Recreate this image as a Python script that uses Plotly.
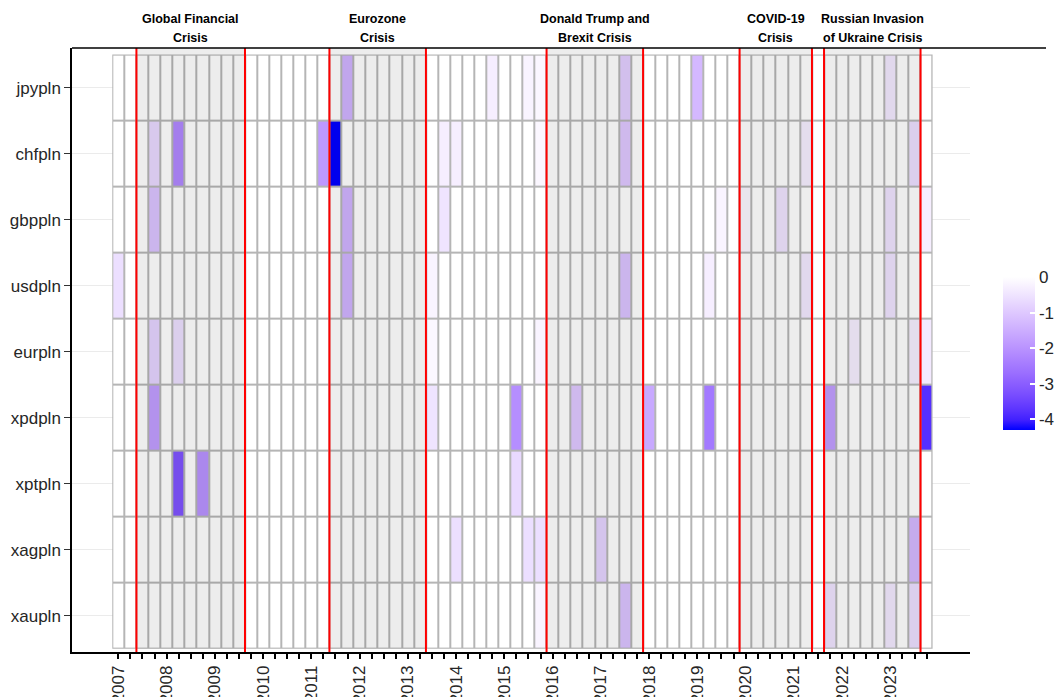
import plotly.graph_objects as go

# Quarterly grid 2007Q1 .. 2023Q4
years = list(range(2007, 2024))
quarters = [f"{y}Q{q}" for y in years for q in range(1, 5)]

# Series shown bottom-to-top on the y axis
series_names = ["xaupln", "xagpln", "xptpln", "xpdpln", "eurpln",
                "usdpln", "gbppln", "chfpln", "jpypln"]

# Non-zero quarterly values for each series (all other quarters are 0)
jpypln = {"2011Q4": -1.4, "2014Q4": -0.3, "2015Q3": -0.2, "2015Q4": -0.15,
          "2017Q3": -0.9, "2019Q1": -1.3, "2023Q1": -0.4}
chfpln = {"2007Q4": -0.7, "2008Q2": -2.2, "2011Q2": -1.9, "2011Q3": -4.3,
          "2013Q4": -0.3, "2014Q1": -0.3, "2015Q4": -0.15, "2017Q3": -1.0,
          "2021Q2": -0.3, "2023Q3": -0.6}
gbppln = {"2007Q4": -1.1, "2011Q4": -1.4, "2013Q4": -0.5, "2019Q3": -0.2,
          "2020Q1": -0.15, "2020Q4": -0.5, "2023Q1": -0.5, "2023Q4": -0.3}
usdpln = {"2007Q1": -0.6, "2011Q4": -1.4, "2013Q3": -0.2, "2017Q3": -1.1,
          "2019Q2": -0.3, "2021Q2": -0.4, "2023Q1": -0.5}
eurpln = {"2007Q4": -0.8, "2008Q2": -0.6, "2013Q3": -0.15, "2015Q4": -0.2,
          "2022Q2": -0.3, "2023Q3": -0.3, "2023Q4": -0.4}
xpdpln = {"2007Q4": -1.8, "2013Q3": -0.5, "2015Q2": -2.1, "2016Q3": -1.0,
          "2018Q1": -1.6, "2019Q2": -2.5, "2021Q4": -1.8, "2023Q4": -3.8}
xptpln = {"2008Q2": -3.2, "2008Q4": -2.0, "2015Q2": -0.7}
xagpln = {"2014Q1": -0.6, "2015Q3": -0.6, "2015Q4": -0.6, "2017Q1": -0.8,
          "2023Q3": -1.3}
xaupln = {"2015Q4": -0.2, "2017Q3": -1.1, "2021Q4": -0.5, "2023Q1": -0.4,
          "2023Q3": -0.6}

# Crisis periods (first and last quarter) and their two-line titles
crisis_line1 = ["Global Financial", "Eurozone", "Donald Trump and",
                "COVID-19", "Russian Invasion"]
crisis_line2 = ["Crisis", "Crisis", "Brexit Crisis", "Crisis",
                "of Ukraine Crisis"]
crisis_start = ["2007Q3", "2011Q3", "2016Q1", "2020Q1", "2021Q4"]
crisis_end = ["2009Q3", "2013Q2", "2017Q4", "2021Q2", "2023Q3"]

Z_MIN, Z_MAX = -4.3, 0.0

series_values = {"jpypln": jpypln, "chfpln": chfpln, "gbppln": gbppln,
                 "usdpln": usdpln, "eurpln": eurpln, "xpdpln": xpdpln,
                 "xptpln": xptpln, "xagpln": xagpln, "xaupln": xaupln}
z = [[series_values[name].get(q, 0.0) for q in quarters] for name in series_names]
x_idx = list(range(len(quarters)))
qpos = {q: i for i, q in enumerate(quarters)}


# blue -> white gradient interpolated in CIE Lab space
def srgb_to_lab(rgb):
    def lin(c):
        c = c / 255
        return c / 12.92 if c <= 0.04045 else ((c + 0.055) / 1.055) ** 2.4
    r, g, b = (lin(c) for c in rgb)
    X = 0.4124 * r + 0.3576 * g + 0.1805 * b
    Y = 0.2126 * r + 0.7152 * g + 0.0722 * b
    Zc = 0.0193 * r + 0.1192 * g + 0.9505 * b
    xn, yn, zn = 0.95047, 1.0, 1.08883

    def f(t):
        return t ** (1 / 3) if t > 0.008856 else 7.787 * t + 16 / 116
    fx, fy, fz = f(X / xn), f(Y / yn), f(Zc / zn)
    return 116 * fy - 16, 500 * (fx - fy), 200 * (fy - fz)


def lab_to_srgb(lab):
    L, a, b = lab
    fy = (L + 16) / 116
    fx = fy + a / 500
    fz = fy - b / 200

    def finv(t):
        return t ** 3 if t ** 3 > 0.008856 else (t - 16 / 116) / 7.787
    X, Y, Zc = 0.95047 * finv(fx), finv(fy), 1.08883 * finv(fz)
    r = 3.2406 * X - 1.5372 * Y - 0.4986 * Zc
    g = -0.9689 * X + 1.8758 * Y + 0.0415 * Zc
    bl = 0.0557 * X - 0.2040 * Y + 1.0570 * Zc

    def gam(c):
        c = max(0.0, min(1.0, c))
        return 12.92 * c if c <= 0.0031308 else 1.055 * c ** (1 / 2.4) - 0.055
    return tuple(int(round(255 * gam(c))) for c in (r, g, bl))


lab_lo = srgb_to_lab((0, 0, 255))
lab_hi = srgb_to_lab((255, 255, 255))
colorscale = []
n_stops = 16
for i in range(n_stops + 1):
    t = i / n_stops
    lab = tuple(lo + (hi - lo) * t for lo, hi in zip(lab_lo, lab_hi))
    r, g, b = lab_to_srgb(lab)
    colorscale.append([t, f"rgb({r},{g},{b})"])

FONT = "Liberation Sans, Arial, sans-serif"
TEXT_COLOR = "#262626"
W, H = 1056, 697
ML, MR, MT, MB = 72, 86, 48, 45
PW, PH = W - ML - MR, H - MT - MB

fig = go.Figure()
fig.add_trace(go.Heatmap(
    z=z, x=x_idx, y=series_names,
    zmin=Z_MIN, zmax=Z_MAX, colorscale=colorscale,
    xgap=2, ygap=2, hoverinfo="skip",
    colorbar=dict(
        x=(1003 - ML) / PW, xanchor="left", y=0.494, yanchor="middle",
        lenmode="pixels", len=153, thickness=32, thicknessmode="pixels",
        xpad=0, ypad=0, outlinewidth=0,
        tickvals=[0, -1, -2, -3, -4], ticktext=["0", "-1", "-2", "-3", "-4"],
        ticks="inside", tickcolor="white", ticklen=5, tickwidth=1.5,
        tickfont=dict(family=FONT, size=17, color=TEXT_COLOR),
    ),
))

shapes = []
# tile borders shown through the heatmap gaps
shapes.append(dict(type="rect", xref="x", yref="y", x0=-0.5, x1=len(quarters) - 0.5,
                   y0=-0.5, y1=len(series_names) - 0.5, fillcolor="#B5B5B5",
                   line=dict(width=0), layer="between"))
# crisis shading and boundary lines
for s, e in zip(crisis_start, crisis_end):
    x0, x1 = qpos[s] - 0.5, qpos[e] + 0.5
    shapes.append(dict(type="rect", xref="x", yref="y", x0=x0, x1=x1,
                       y0=-0.5, y1=8.6, fillcolor="rgba(0,0,0,0.07)",
                       line=dict(width=0), layer="above"))
for s, e in zip(crisis_start, crisis_end):
    for xv in (qpos[s] - 0.5, qpos[e] + 0.5):
        shapes.append(dict(type="line", xref="x", yref="paper", x0=xv, x1=xv,
                           y0=0, y1=1, line=dict(color="#FF0000", width=2),
                           layer="above"))
# top rule
shapes.append(dict(type="line", xref="paper", yref="paper", x0=0,
                   x1=(1046 - ML) / PW, y0=1, y1=1,
                   line=dict(color="black", width=1.5), layer="above"))

annotations = []
for l1, l2, s, e in zip(crisis_line1, crisis_line2, crisis_start, crisis_end):
    xc = (qpos[s] + qpos[e]) / 2
    for txt, py in ((l1, 19), (l2, 38)):
        annotations.append(dict(
            x=xc, xref="x", y=(H - MB - py) / PH, yref="paper",
            text=f"<b>{txt}</b>", showarrow=False, xanchor="center",
            yanchor="middle", font=dict(family=FONT, size=12.5, color="black")))

tick_text = [q[:4] if q.endswith("Q1") else "" for q in quarters]

fig.update_layout(
    width=W, height=H,
    margin=dict(l=ML, r=MR, t=MT, b=MB, autoexpand=False),
    paper_bgcolor="white", plot_bgcolor="white",
    shapes=shapes, annotations=annotations,
    xaxis=dict(
        range=[-3.84, 70.6], tickvals=x_idx, ticktext=tick_text,
        tickangle=-90, ticks="outside", ticklen=5, tickwidth=1.5,
        tickcolor="black", showgrid=False, zeroline=False,
        showline=True, linecolor="black", linewidth=1.5,
        tickfont=dict(family=FONT, size=17, color=TEXT_COLOR),
    ),
    yaxis=dict(
        range=[-0.55, 8.6], type="category", categoryorder="array",
        categoryarray=series_names, ticks="outside", ticklen=6, tickwidth=1.2,
        tickcolor="#333333", showgrid=True, gridcolor="#EBEBEB", gridwidth=1,
        zeroline=False, showline=True, linecolor="black", linewidth=1.5,
        tickfont=dict(family=FONT, size=17, color=TEXT_COLOR),
    ),
)

fig.write_html("out.html")
